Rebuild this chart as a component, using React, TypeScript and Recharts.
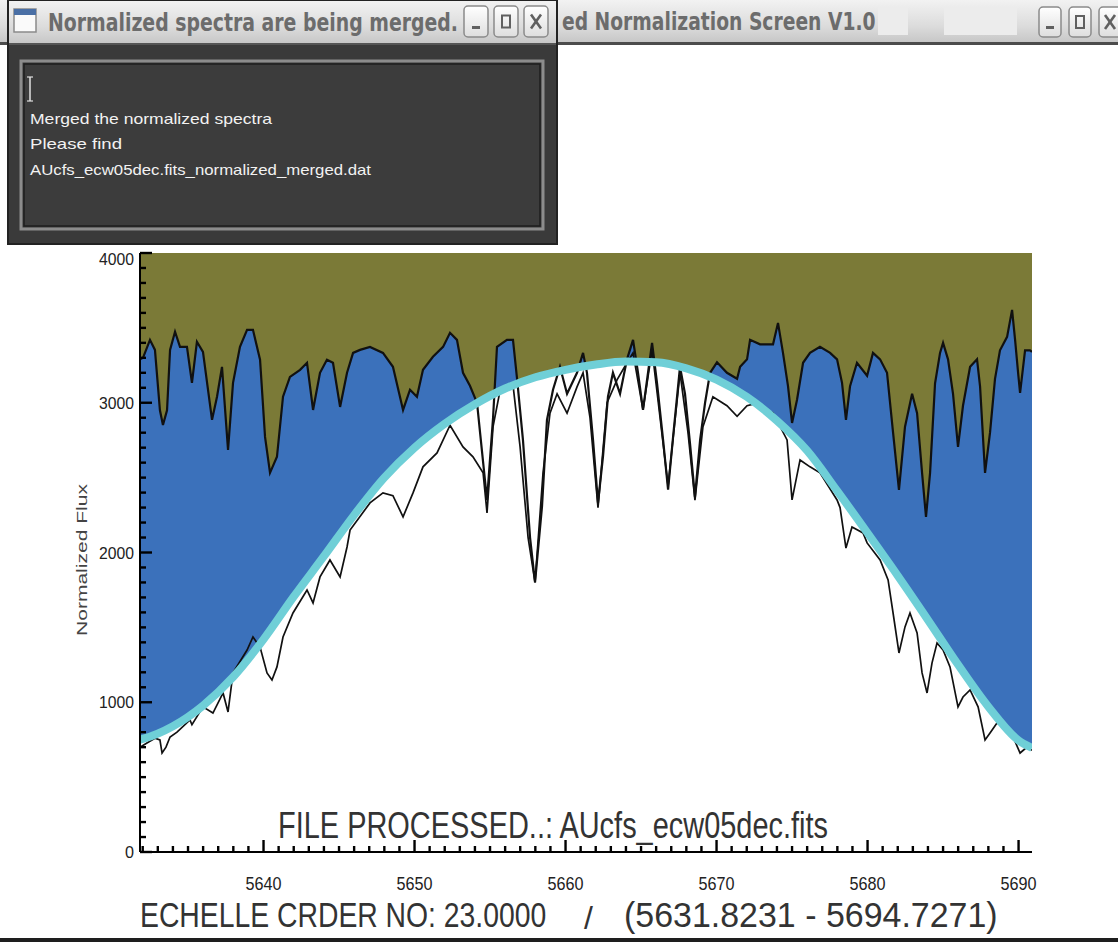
import React from "react"
import { Area, CartesianGrid, ComposedChart, Line, XAxis, YAxis } from "recharts"

// wavelength range shown on the plot (Angstrom)
const X_MIN = 5631.82
const X_MAX = 5690.89

// normalized spectrum (upper black curve, blue fill below it)
const fluxWave = [
  5631.82, 5632.02, 5632.48, 5632.81, 5633.14, 5633.34, 5633.61, 5633.81, 5634.14, 5634.47,
  5634.93, 5635.26, 5635.59, 5635.99, 5636.59, 5636.92, 5637.25, 5637.65, 5637.98, 5638.44,
  5638.91, 5639.3, 5639.77, 5640.1, 5640.43, 5640.89, 5641.29, 5641.75, 5642.42, 5642.88,
  5643.28, 5643.74, 5644.2, 5644.6, 5645.07, 5645.53, 5645.93, 5646.39, 5647.05, 5647.91,
  5648.57, 5649.24, 5649.7, 5650.16, 5650.56, 5651.22, 5651.89, 5652.35, 5652.81, 5653.21,
  5653.67, 5654.14, 5654.34, 5654.8, 5655.2, 5655.46, 5656.12, 5656.52, 5656.79, 5657.18,
  5657.65, 5657.98, 5658.44, 5658.77, 5659.17, 5659.63, 5660.1, 5660.76, 5661.16, 5661.42,
  5661.82, 5662.15, 5662.48, 5662.81, 5663.14, 5663.61, 5664.07, 5664.47, 5664.8, 5665.13,
  5665.46, 5665.73, 5666.06, 5666.46, 5666.79, 5667.12, 5667.58, 5667.91, 5668.24, 5668.57,
  5668.91, 5669.24, 5669.57, 5670.03, 5670.69, 5671.36, 5671.56, 5672.02, 5672.22, 5672.88,
  5673.74, 5674.07, 5674.4, 5674.73, 5675.0, 5675.33, 5675.73, 5676.19, 5676.85, 5677.52,
  5677.98, 5678.31, 5678.57, 5678.84, 5679.3, 5679.97, 5680.36, 5680.83, 5681.29, 5681.69,
  5682.08, 5682.48, 5682.95, 5683.28, 5683.61, 5683.87, 5684.14, 5684.47, 5684.8, 5685.0,
  5685.33, 5685.66, 5685.99, 5686.32, 5686.79, 5687.25, 5687.45, 5687.78, 5688.11, 5688.44,
  5688.77, 5689.24, 5689.57, 5689.77, 5689.97, 5690.1, 5690.43, 5690.76, 5690.89,
]
const fluxValue = [
  3290, 3300, 3420, 3353, 2950, 2852, 2950, 3353, 3474, 3373,
  3373, 3133, 3407, 3340, 2886, 3040, 3240, 2685, 3133, 3373,
  3487, 3487, 3287, 2772, 2532, 2639, 3040, 3173, 3220, 3267,
  2952, 3200, 3287, 3267, 2972, 3200, 3333, 3353, 3373, 3333,
  3240, 2952, 3087, 3040, 3220, 3307, 3373, 3467, 3420, 3200,
  3113, 2999, 2800, 2350, 2900, 3373, 3420, 3420, 3160, 2752,
  2100, 1800, 2305, 2885, 3087, 3240, 3060, 3200, 3333, 3200,
  2752, 2332, 2640, 3040, 3200, 3060, 3290, 3420, 3200, 2952,
  3200, 3400, 3130, 2752, 2420, 2770, 3240, 3060, 2730, 2372,
  2750, 3000, 3200, 3270, 3200, 3160, 3240, 3290, 3420, 3390,
  3390, 3533, 3333, 3113, 2865, 3020, 3267, 3333, 3373, 3333,
  3290, 3133, 2886, 3110, 3267, 3180, 3333, 3290, 3200, 2800,
  2418, 2840, 3060, 2930, 2532, 2238, 2532, 3130, 3333, 3400,
  3290, 3060, 2705, 2980, 3240, 3290, 3110, 2532, 2800, 3160,
  3350, 3440, 3620, 3420, 3200, 3066, 3350, 3350, 3340,
]

// raw (un-normalized) spectrum, the lower black curve
const rawWave = [
  5631.82, 5632.28, 5632.81, 5633.14, 5633.28, 5633.54, 5633.81, 5634.27, 5635.13, 5635.26,
  5635.99, 5636.65, 5637.32, 5637.65, 5637.98, 5638.91, 5639.3, 5639.77, 5640.23, 5640.56,
  5640.89, 5641.29, 5641.95, 5642.88, 5643.28, 5643.74, 5644.4, 5645.07, 5645.53, 5645.73,
  5647.05, 5647.91, 5648.57, 5649.24, 5649.9, 5650.56, 5651.49, 5652.35, 5653.21, 5653.87,
  5654.54, 5654.8, 5655.2, 5655.66, 5656.52, 5656.99, 5657.52, 5657.98, 5658.51, 5658.97,
  5659.44, 5660.1, 5660.76, 5661.16, 5661.62, 5662.15, 5662.75, 5663.41, 5664.07, 5664.47,
  5665.13, 5665.73, 5666.26, 5666.79, 5667.58, 5668.11, 5668.57, 5669.1, 5669.76, 5670.69,
  5671.36, 5672.02, 5672.42, 5673.74, 5674.67, 5675.0, 5675.53, 5676.19, 5676.85, 5677.98,
  5678.18, 5678.57, 5678.97, 5679.7, 5679.97, 5680.83, 5681.36, 5681.69, 5682.08, 5682.48,
  5682.81, 5683.28, 5683.61, 5683.94, 5684.27, 5684.6, 5685.0, 5685.46, 5685.99, 5686.32,
  5686.79, 5687.32, 5687.78, 5688.11, 5688.57, 5689.24, 5689.64, 5690.1, 5690.56, 5690.89,
]
const rawValue = [
  700, 728, 760, 748, 661, 700, 768, 800, 882, 850,
  969, 928, 1062, 935, 1196, 1349, 1436, 1369, 1196, 1149,
  1236, 1436, 1596, 1750, 1663, 1837, 1950, 1837, 2037, 2150,
  2331, 2398, 2380, 2238, 2398, 2572, 2665, 2850, 2705, 2639,
  2532, 2265, 2840, 3080, 3120, 2705, 2100, 1800, 2532, 2930,
  3060, 2930, 3106, 3200, 2900, 2300, 3000, 3153, 3267, 3333,
  2952, 3353, 2900, 2445, 3200, 2800, 2350, 2840, 3040, 2980,
  2910, 2980, 2990, 2932, 2752, 2351, 2618, 2572, 2532, 2351,
  2300, 2030, 2170, 2131, 2064, 1950, 1817, 1596, 1329, 1503,
  1596, 1463, 1196, 1062, 1263, 1396, 1349, 1236, 969, 1035,
  1082, 969, 748, 795, 862, 835, 768, 661, 701, 680,
]

// continuum fit (cyan curve)
const fitWave = [
  5631.82, 5632, 5634, 5636, 5638, 5640, 5642, 5644, 5646, 5648, 5650, 5652, 5654, 5656,
  5658, 5660, 5662, 5664, 5666, 5668, 5670, 5672, 5674, 5676, 5678, 5680, 5682, 5684,
  5686, 5688, 5690, 5690.89,
]
const fitValue = [
  750, 755, 840, 978, 1170, 1420, 1705, 1975, 2250, 2500, 2700, 2860, 2990, 3095,
  3170, 3220, 3255, 3275, 3270, 3230, 3155, 3040, 2880, 2680, 2410, 2130, 1845, 1550,
  1250, 970, 745, 695,
]

const yTicks = [
  0, 100, 200, 300, 400, 500, 600, 700, 800, 900, 1000, 1100, 1200, 1300, 1400, 1500, 1600,
  1700, 1800, 1900, 2000, 2100, 2200, 2300, 2400, 2500, 2600, 2700, 2800, 2900, 3000, 3100,
  3200, 3300, 3400, 3500, 3600, 3700, 3800, 3900, 4000,
]
const xTicks = [
  5632, 5633, 5634, 5635, 5636, 5637, 5638, 5639, 5640, 5641, 5642, 5643, 5644, 5645, 5646,
  5647, 5648, 5649, 5650, 5651, 5652, 5653, 5654, 5655, 5656, 5657, 5658, 5659, 5660, 5661,
  5662, 5663, 5664, 5665, 5666, 5667, 5668, 5669, 5670, 5671, 5672, 5673, 5674, 5675, 5676,
  5677, 5678, 5679, 5680, 5681, 5682, 5683, 5684, 5685, 5686, 5687, 5688, 5689, 5690,
]

const zip = (w: number[], v: number[]) => w.map((x, i) => ({ w: x, v: v[i] }))
const fluxData = zip(fluxWave, fluxValue)
const rawData = zip(rawWave, rawValue)
const fitData = zip(fitWave, fitValue)

const OLIVE = "#7b7a37"
const BLUE = "#3b71bb"
const CYAN = "#6fcfd7"
const TICK = "#000"
const TICK_FONT = "'Liberation Sans', Arial, sans-serif"
const CHART_MARGIN = { top: 253, right: 86, bottom: 40, left: 0 }

const leftTick = (p: any) => {
  const v = p.payload.value
  const major = v % 1000 === 0
  return (
    <g key={"l" + v}>
      <line x1={p.x} y1={p.y} x2={p.x + (major ? 12 : 6)} y2={p.y} stroke={TICK} strokeWidth={2.4} />
      {major ? (
        <text
          x={p.x - 6}
          y={p.y + (v === 4000 ? 12 : 6)}
          textAnchor="end"
          fontFamily={TICK_FONT}
          fontSize={17}
          fill="#222"
          textLength={v === 0 ? 9 : 35}
          lengthAdjust="spacingAndGlyphs"
        >
          {v}
        </text>
      ) : null}
    </g>
  )
}

const rightTick = (p: any) => {
  const v = p.payload.value
  const major = v % 1000 === 0
  return (
    <line key={"r" + v} x1={p.x} y1={p.y} x2={p.x - (major ? 12 : 6)} y2={p.y} stroke={TICK} strokeWidth={2.4} />
  )
}

const bottomTick = (p: any) => {
  const v = p.payload.value
  const major = v % 10 === 0
  return (
    <g key={"b" + v}>
      <line x1={p.x} y1={p.y} x2={p.x} y2={p.y - (major ? 12 : 6)} stroke={TICK} strokeWidth={2.4} />
      {major ? (
        <text
          x={p.x}
          y={p.y + 38}
          textAnchor="middle"
          fontFamily={TICK_FONT}
          fontSize={19}
          fill="#222"
          textLength={36}
          lengthAdjust="spacingAndGlyphs"
        >
          {v}
        </text>
      ) : null}
    </g>
  )
}

const topTick = (p: any) => {
  const v = p.payload.value
  const major = v % 10 === 0
  return (
    <line key={"t" + v} x1={p.x} y1={p.y} x2={p.x} y2={p.y + (major ? 12 : 6)} stroke={TICK} strokeWidth={2.4} />
  )
}

// the four axes; the visible ones live in a transparent chart laid over the
// series so that the inward IDL-style ticks stay on top of the fills
const axes = (show: boolean) => [
  <XAxis
    key="xb"
    type="number"
    dataKey="w"
    domain={[X_MIN, X_MAX]}
    allowDataOverflow
    ticks={xTicks}
    interval={0}
    height={50}
    tickSize={0}
    tickMargin={0}
    tickLine={false}
    tick={show ? bottomTick : false}
    axisLine={show ? { stroke: "#000", strokeWidth: 2 } : false}
  />,
  <XAxis
    key="xt"
    xAxisId="t"
    orientation="top"
    type="number"
    dataKey="w"
    domain={[X_MIN, X_MAX]}
    allowDataOverflow
    ticks={xTicks}
    interval={0}
    height={0}
    tickSize={0}
    tickMargin={0}
    tickLine={false}
    tick={show ? topTick : false}
    axisLine={show ? { stroke: "#000", strokeWidth: 2 } : false}
  />,
  <YAxis
    key="yl"
    type="number"
    domain={[0, 4000]}
    allowDataOverflow
    ticks={yTicks}
    interval={0}
    width={140}
    tickSize={0}
    tickMargin={0}
    tickLine={false}
    tick={show ? leftTick : false}
    axisLine={show ? { stroke: "#000", strokeWidth: 2 } : false}
  />,
  <YAxis
    key="yr"
    yAxisId="r"
    orientation="right"
    type="number"
    domain={[0, 4000]}
    allowDataOverflow
    ticks={yTicks}
    interval={0}
    width={0}
    tickSize={0}
    tickMargin={0}
    tickLine={false}
    tick={show ? rightTick : false}
    axisLine={show ? { stroke: "#000", strokeWidth: 2 } : false}
  />,
]

const WinButton: React.FC<{ x: number; y: number; w: number; h: number; kind: string }> = ({
  x,
  y,
  w,
  h,
  kind,
}) => (
  <g>
    <rect x={x} y={y} width={w} height={h} rx={4} fill="url(#btnGrad)" stroke="#8a8a8a" strokeWidth={1.5} />
    {kind === "min" && <rect x={x + w / 2 - 4} y={y + h - 11} width={8} height={3} fill="#606060" />}
    {kind === "max" && (
      <rect x={x + w / 2 - 4} y={y + h / 2 - 6} width={8} height={12} fill="none" stroke="#606060" strokeWidth={2} />
    )}
    {kind === "close" && (
      <g stroke="#606060" strokeWidth={2.6}>
        <line x1={x + w / 2 - 5} y1={y + h / 2 - 7} x2={x + w / 2 + 5} y2={y + h / 2 + 7} />
        <line x1={x + w / 2 + 5} y1={y + h / 2 - 7} x2={x + w / 2 - 5} y2={y + h / 2 + 7} />
      </g>
    )}
  </g>
)

const Chrome = () => (
  <svg width={1118} height={942} style={{ position: "absolute", left: 0, top: 0, pointerEvents: "none" }}>
    <defs>
      <linearGradient id="barGrad" x1="0" y1="0" x2="0" y2="1">
        <stop offset="0" stopColor="#f2f2f2" />
        <stop offset="0.6" stopColor="#dcdcdc" />
        <stop offset="1" stopColor="#c6c6c6" />
      </linearGradient>
      <linearGradient id="btnGrad" x1="0" y1="0" x2="0" y2="1">
        <stop offset="0" stopColor="#ffffff" />
        <stop offset="1" stopColor="#dedede" />
      </linearGradient>
    </defs>

    {/* main window title bar */}
    <rect x={0} y={0} width={1118} height={43} fill="url(#barGrad)" />
    <rect x={0} y={42} width={1118} height={3} fill="#4c4c4c" />
    <rect x={878} y={7} width={30} height={28} fill="#ececec" />
    <rect x={944} y={7} width={73} height={28} fill="#ececec" />
    <text
      transform="translate(562 30) scale(0.78 1)"
      fontFamily="'DejaVu Sans', sans-serif"
      fontWeight="bold"
      fontSize={24}
      fill="#6c6c6c"
    >
      ed Normalization Screen V1.0
    </text>
    <WinButton x={1039} y={7} w={22} h={30} kind="min" />
    <WinButton x={1069} y={7} w={22} h={30} kind="max" />
    <WinButton x={1099} y={7} w={22} h={30} kind="close" />

    {/* message dialog */}
    <rect x={8} y={0} width={549} height={244} fill="#3a3a3a" stroke="#222" strokeWidth={2} />
    <rect x={9} y={1} width={547} height={43} fill="url(#barGrad)" />
    <rect x={9} y={43} width={547} height={2} fill="#555" />
    <rect x={14} y={9} width={22} height={23} fill="#fafafa" stroke="#8a8a8a" strokeWidth={1.5} />
    <rect x={14} y={9} width={22} height={6} fill="#4a6fa5" />
    <text
      x={48}
      y={31}
      fontFamily="'DejaVu Sans', sans-serif"
      fontWeight="bold"
      fontSize={24}
      fill="#6c6c6c"
      textLength={410}
      lengthAdjust="spacingAndGlyphs"
    >
      Normalized spectra are being merged.
    </text>
    <WinButton x={464} y={6} w={24} h={31} kind="min" />
    <WinButton x={494} y={6} w={24} h={31} kind="max" />
    <WinButton x={524} y={6} w={24} h={31} kind="close" />

    <rect x={21} y={61} width={522} height={168} fill="#3c3c3c" stroke="#8c8c8c" strokeWidth={3} />
    <rect x={24} y={64} width={516} height={162} fill="none" stroke="#1e1e1e" strokeWidth={1.5} />
    <line x1={30} y1={77} x2={30} y2={101} stroke="#e0e0e0" strokeWidth={1.5} />
    <line x1={27} y1={77} x2={33} y2={77} stroke="#e0e0e0" strokeWidth={1.2} />
    <line x1={27} y1={101} x2={33} y2={101} stroke="#e0e0e0" strokeWidth={1.2} />
    <g fontFamily="'Liberation Sans', Arial, sans-serif" fontSize={15} fill="#f2f2f2">
      <text x={30} y={124} textLength={242} lengthAdjust="spacingAndGlyphs">
        Merged the normalized spectra
      </text>
      <text x={30} y={149} textLength={92} lengthAdjust="spacingAndGlyphs">
        Please find
      </text>
      <text x={30} y={175} textLength={341} lengthAdjust="spacingAndGlyphs">
        AUcfs_ecw05dec.fits_normalized_merged.dat
      </text>
    </g>

    {/* plot annotations */}
    <text
      transform="translate(278 838) scale(0.804 1)"
      fontFamily="'Liberation Sans', Arial, sans-serif"
      fontSize={36}
      fill="#333"
    >
      FILE PROCESSED..: AUcfs_ecw05dec.fits
    </text>
    <text
      transform="translate(87 560) rotate(-90)"
      textAnchor="middle"
      fontFamily="'Liberation Sans', Arial, sans-serif"
      fontSize={15}
      fill="#444"
      textLength={152}
      lengthAdjust="spacingAndGlyphs"
    >
      Normalized Flux
    </text>
    <g fontFamily="'Liberation Sans', Arial, sans-serif" fontSize={35} fill="#333">
      <text transform="translate(140 927) scale(0.81 1)">ECHELLE CRDER NO: 23.0000</text>
      <text x={584} y={929} fontSize={32}>
        /
      </text>
      <text transform="translate(624 927) scale(0.97 1)">(5631.8231 - 5694.7271)</text>
    </g>
    <rect x={0} y={938} width={1118} height={4} fill="#1e1e1e" />
  </svg>
)

export default function App() {
  return (
    <div
      style={{
        position: "absolute",
        left: 0,
        top: 0,
        width: 1118,
        height: 942,
        background: "#fff",
        overflow: "hidden",
      }}
    >
      <div style={{ position: "absolute", left: 0, top: 0 }}>
        <ComposedChart width={1118} height={942} margin={CHART_MARGIN}>
          <CartesianGrid fill={OLIVE} fillOpacity={1} horizontal={false} vertical={false} stroke="none" />
          {axes(false)}
          <Area
            data={fluxData}
            dataKey="v"
            type="linear"
            baseValue={0}
            fill={BLUE}
            fillOpacity={1}
            stroke="none"
            isAnimationActive={false}
            activeDot={false}
          />
          <Area
            data={fitData}
            dataKey="v"
            type="monotone"
            baseValue={0}
            fill="#ffffff"
            fillOpacity={1}
            stroke="none"
            isAnimationActive={false}
            activeDot={false}
          />
          <Line
            data={rawData}
            dataKey="v"
            type="linear"
            stroke="#111"
            strokeWidth={1.7}
            dot={false}
            activeDot={false}
            isAnimationActive={false}
          />
          <Line
            data={fluxData}
            dataKey="v"
            type="linear"
            stroke="#111"
            strokeWidth={2.2}
            dot={false}
            activeDot={false}
            isAnimationActive={false}
          />
          <Line
            data={fitData}
            dataKey="v"
            type="monotone"
            stroke={CYAN}
            strokeWidth={8}
            dot={false}
            activeDot={false}
            isAnimationActive={false}
          />
        </ComposedChart>
      </div>
      <div style={{ position: "absolute", left: 0, top: 0, pointerEvents: "none" }}>
        <ComposedChart width={1118} height={942} margin={CHART_MARGIN} data={fitData}>
          {axes(true)}
          <Line dataKey="v" stroke="none" dot={false} activeDot={false} isAnimationActive={false} />
        </ComposedChart>
      </div>
      <Chrome />
    </div>
  )
}
